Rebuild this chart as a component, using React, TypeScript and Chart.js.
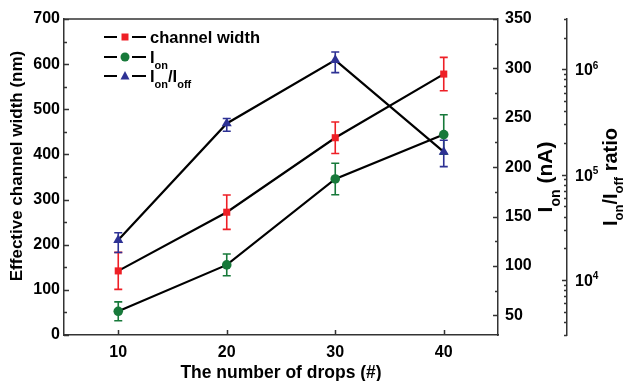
import React, { useEffect, useRef } from 'react';
import { Chart, registerables } from 'chart.js';

Chart.register(...registerables);

// ---- data ----
const drops = [10, 20, 30, 40];
const channelWidth = [142, 272, 437, 578];
const channelWidthErr = [41, 38, 35, 37];
const onCurrent = [54, 101, 188, 233];
const onCurrentErr = [9.5, 11, 16, 20];
const onOffRatio = [2.39e4, 3.06e5, 1.22e6, 1.64e5];
const onOffRatioHigh = [2.8e4, 3.41e5, 1.46e6, 2.12e5];
const onOffRatioLow = [1.82e4, 2.58e5, 9.3e5, 1.19e5];
const xTicks = [10, 20, 30, 40];
const widthTicks = [0, 100, 200, 300, 400, 500, 600, 700];
const currentTicks = [50, 100, 150, 200, 250, 300, 350];
const ratioTicks = [1e4, 1e5, 1e6];

const FONT = '"Liberation Sans", Arial, Helvetica, sans-serif';
const RED = '#ee1f26';
const GREEN = '#17793a';
const BLUE = '#2d3194';
const AXIS = '#333333';

type Part = { t: string; sub?: boolean; sup?: boolean };

function drawRich(ctx: CanvasRenderingContext2D, parts: Part[], x: number, y: number, size: number, small: number, align: 'left' | 'center', subDrop = 0.4) {
  const mainFont = `bold ${size}px ${FONT}`;
  const smallFont = `bold ${small}px ${FONT}`;
  let total = 0;
  const widths: number[] = [];
  for (const p of parts) {
    ctx.font = p.sub || p.sup ? smallFont : mainFont;
    const w = ctx.measureText(p.t).width;
    widths.push(w);
    total += w;
  }
  let cx = align === 'center' ? x - total / 2 : x;
  ctx.textAlign = 'left';
  ctx.textBaseline = 'alphabetic';
  parts.forEach((p, i) => {
    ctx.font = p.sub || p.sup ? smallFont : mainFont;
    const dy = p.sub ? size * subDrop : p.sup ? -size * 0.42 : 0;
    ctx.fillText(p.t, cx, y + dy);
    cx += widths[i];
  });
}

const overlay = {
  id: 'overlay',
  beforeDatasetsDraw(chart: any) {
    const ctx: CanvasRenderingContext2D = chart.ctx;
    const xs = chart.scales.x;
    const bar = (yScale: any, hi: number[], lo: number[], color: string) => {
      ctx.save();
      ctx.strokeStyle = color;
      ctx.lineWidth = 1.6;
      drops.forEach((d, i) => {
        const px = xs.getPixelForValue(d);
        const y1 = yScale.getPixelForValue(hi[i]);
        const y2 = yScale.getPixelForValue(lo[i]);
        ctx.beginPath();
        ctx.moveTo(px, y1);
        ctx.lineTo(px, y2);
        ctx.moveTo(px - 4, y1);
        ctx.lineTo(px + 4, y1);
        ctx.moveTo(px - 4, y2);
        ctx.lineTo(px + 4, y2);
        ctx.stroke();
      });
      ctx.restore();
    };
    bar(chart.scales.y, channelWidth.map((v, i) => v + channelWidthErr[i]), channelWidth.map((v, i) => v - channelWidthErr[i]), RED);
    bar(chart.scales.y1, onCurrent.map((v, i) => v + onCurrentErr[i]), onCurrent.map((v, i) => v - onCurrentErr[i]), GREEN);
    bar(chart.scales.y2, onOffRatioHigh, onOffRatioLow, BLUE);
  },
  afterDraw(chart: any) {
    const ctx: CanvasRenderingContext2D = chart.ctx;
    const area = chart.chartArea;
    const xs = chart.scales.x;
    const ys = chart.scales.y;
    const y1 = chart.scales.y1;
    const y2 = chart.scales.y2;
    ctx.save();
    ctx.strokeStyle = AXIS;
    ctx.lineWidth = 1.5;
    ctx.beginPath();
    // top frame
    ctx.moveTo(area.left, area.top);
    ctx.lineTo(area.right, area.top);
    // x ticks (inward)
    xTicks.forEach((v) => {
      const px = Math.round(xs.getPixelForValue(v)) + 0.5;
      ctx.moveTo(px, area.bottom);
      ctx.lineTo(px, area.bottom - 5);
    });
    // left ticks (inward)
    for (let v = 0; v <= 700; v += 50) {
      const py = Math.round(ys.getPixelForValue(v)) + 0.5;
      const len = v % 100 === 0 ? 5 : 3;
      ctx.moveTo(area.left, py);
      ctx.lineTo(area.left + len, py);
    }
    // right current ticks (inward)
    for (let v = 50; v <= 350; v += 25) {
      const py = Math.round(y1.getPixelForValue(v)) + 0.5;
      const len = v % 50 === 0 ? 5 : 3;
      ctx.moveTo(area.right, py);
      ctx.lineTo(area.right - len, py);
    }
    // log ticks
    const lx = y2.left;
    for (let d = 1e3; d <= 1e6; d *= 10) {
      for (let m = 1; m <= 9; m++) {
        const v = m * d;
        if (v < y2.min - 1 || v > y2.max + 1) continue;
        const py = Math.round(y2.getPixelForValue(v)) + 0.5;
        const len = m === 1 ? 5 : 3;
        ctx.moveTo(lx, py);
        ctx.lineTo(lx - len, py);
      }
    }
    ctx.stroke();

    ctx.fillStyle = '#000';
    // log tick labels
    ratioTicks.forEach((v) => {
      const py = y2.getPixelForValue(v);
      const exp = Math.round(Math.log10(v));
      drawRich(ctx, [{ t: '10' }, { t: String(exp), sup: true }], lx + 8, py + 6, 16, 10, 'left');
    });

    // titles
    ctx.save();
    ctx.translate(22, 166);
    ctx.rotate(-Math.PI / 2);
    drawRich(ctx, [{ t: 'Effective channel width (nm)' }], 0, 0, 17, 12, 'center');
    ctx.restore();

    ctx.save();
    ctx.translate(552, 177);
    ctx.rotate(-Math.PI / 2);
    drawRich(ctx, [{ t: 'I' }, { t: 'on', sub: true }, { t: ' (nA)' }], 0, 0, 21, 14, 'center');
    ctx.restore();

    ctx.save();
    ctx.translate(617, 177);
    ctx.rotate(-Math.PI / 2);
    drawRich(ctx, [{ t: 'I' }, { t: 'on', sub: true }, { t: '/I' }, { t: 'off', sub: true }, { t: ' ratio' }], 0, 0, 20, 13, 'center', 0.3);
    ctx.restore();

    drawRich(ctx, [{ t: 'The number of drops (#)' }], (area.left + area.right) / 2, 378, 17.5, 12, 'center');

    // legend
    const rows: { y: number; color: string; style: string; parts: Part[] }[] = [
      { y: 37, color: RED, style: 'rect', parts: [{ t: 'channel width' }] },
      { y: 57, color: GREEN, style: 'circle', parts: [{ t: 'I' }, { t: 'on', sub: true }] },
      { y: 76, color: BLUE, style: 'triangle', parts: [{ t: 'I' }, { t: 'on', sub: true }, { t: '/I' }, { t: 'off', sub: true }] },
    ];
    rows.forEach((r) => {
      ctx.strokeStyle = '#000';
      ctx.lineWidth = 2;
      ctx.beginPath();
      ctx.moveTo(104, r.y);
      ctx.lineTo(117, r.y);
      ctx.moveTo(132, r.y);
      ctx.lineTo(146, r.y);
      ctx.stroke();
      ctx.fillStyle = r.color;
      ctx.beginPath();
      if (r.style === 'rect') {
        ctx.rect(121.5, r.y - 3.5, 7, 7);
      } else if (r.style === 'circle') {
        ctx.arc(125, r.y, 4.5, 0, Math.PI * 2);
      } else {
        ctx.moveTo(125, r.y - 5);
        ctx.lineTo(129.5, r.y + 3.5);
        ctx.lineTo(120.5, r.y + 3.5);
        ctx.closePath();
      }
      ctx.fill();
      ctx.fillStyle = '#000';
      drawRich(ctx, r.parts, 150, r.y + 5.5, 16.5, 11, 'left');
    });
    ctx.restore();
  },
};

export default function App() {
  const ref = useRef<HTMLCanvasElement | null>(null);
  useEffect(() => {
    if (!ref.current) return;
    const tickFont = { family: FONT, size: 16, weight: 'bold' as const };
    const chart = new Chart(ref.current, {
      type: 'line',
      data: {
        datasets: [
          {
            label: 'channel width',
            data: drops.map((x, i) => ({ x, y: channelWidth[i] })),
            yAxisID: 'y',
            borderColor: '#000',
            borderWidth: 2.2,
            pointStyle: 'rect',
            pointRadius: 5,
            pointBackgroundColor: RED,
            pointBorderColor: RED,
            pointBorderWidth: 0,
          },
          {
            label: 'I_on',
            data: drops.map((x, i) => ({ x, y: onCurrent[i] })),
            yAxisID: 'y1',
            borderColor: '#000',
            borderWidth: 2.2,
            pointStyle: 'circle',
            pointRadius: 4.8,
            pointBackgroundColor: GREEN,
            pointBorderColor: GREEN,
            pointBorderWidth: 0,
          },
          {
            label: 'I_on/I_off',
            data: drops.map((x, i) => ({ x, y: onOffRatio[i] })),
            yAxisID: 'y2',
            borderColor: '#000',
            borderWidth: 2.2,
            pointStyle: 'triangle',
            pointRadius: 5.8,
            pointBackgroundColor: BLUE,
            pointBorderColor: BLUE,
            pointBorderWidth: 0,
          },
        ],
      },
      options: {
        animation: false,
        responsive: false,
        maintainAspectRatio: false,
        layout: { padding: { top: 19, left: 0, right: 0, bottom: 0 } },
        plugins: { legend: { display: false }, tooltip: { enabled: false } },
        scales: {
          x: {
            type: 'linear',
            min: 5,
            max: 45,
            afterBuildTicks: (s: any) => { s.ticks = xTicks.map((value) => ({ value })); },
            afterFit: (s: any) => { s.height = 46; },
            grid: { display: false, drawTicks: false },
            border: { display: true, color: AXIS, width: 1.5 },
            ticks: { font: tickFont, color: '#000', padding: 8 },
          },
          y: {
            type: 'linear',
            position: 'left',
            min: 0,
            max: 700,
            afterBuildTicks: (s: any) => { s.ticks = widthTicks.map((value) => ({ value })); },
            afterFit: (s: any) => { s.width = 64; },
            grid: { display: false, drawTicks: false },
            border: { display: true, color: AXIS, width: 1.5 },
            ticks: { font: tickFont, color: '#000', padding: 4 },
          },
          y1: {
            type: 'linear',
            position: 'right',
            weight: 0,
            min: 30,
            max: 350,
            afterBuildTicks: (s: any) => { s.ticks = currentTicks.map((value) => ({ value })); },
            afterFit: (s: any) => { s.width = 69; },
            grid: { display: false, drawTicks: false },
            border: { display: true, color: AXIS, width: 1.5 },
            ticks: { font: tickFont, color: '#000', padding: 7 },
          },
          y2: {
            type: 'logarithmic',
            position: 'right',
            weight: 1,
            min: 3000,
            max: 3e6,
            afterBuildTicks: (s: any) => { s.ticks = ratioTicks.map((value) => ({ value })); },
            afterFit: (s: any) => { s.width = 59; },
            grid: { display: false, drawTicks: false },
            border: { display: true, color: AXIS, width: 1.5 },
            ticks: { display: false },
          },
        },
      },
      plugins: [overlay],
    } as any);
    return () => chart.destroy();
  }, []);
  return (
    <div style={{ position: 'fixed', left: 0, top: 0, width: 626, height: 381, background: '#fff' }}>
      <canvas ref={ref} width={626} height={381} style={{ width: 626, height: 381 }} />
    </div>
  );
}
